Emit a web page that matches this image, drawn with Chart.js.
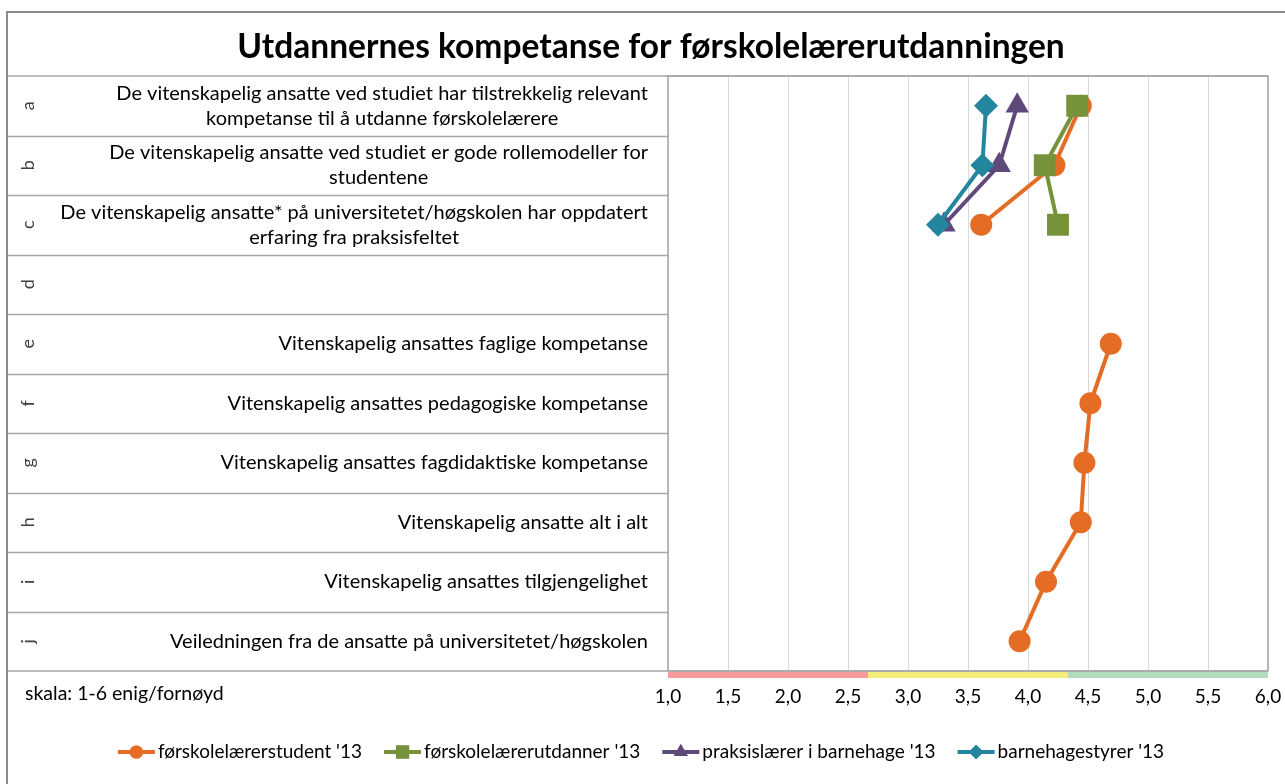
<!DOCTYPE html>
<html>
<head>
<meta charset="utf-8">
<script src="https://cdn.jsdelivr.net/npm/chart.js@4"></script>
<style>
  html, body { margin: 0; padding: 0; background: #fff; }
  #wrap { width: 1285px; height: 784px; }
</style>
</head>
<body>
<div id="wrap"><canvas id="kompetanseChart" width="1285" height="784"></canvas></div>
<script>
const title = 'Utdannernes kompetanse for førskolelærerutdanningen'
const scaleNote = 'skala: 1-6 enig/fornøyd'

const categories = ['a', 'b', 'c', 'd', 'e', 'f', 'g', 'h', 'i', 'j']
const questions = [
  ['De vitenskapelig ansatte ved studiet har tilstrekkelig relevant', 'kompetanse til å utdanne førskolelærere'],
  ['De vitenskapelig ansatte ved studiet er gode rollemodeller for', 'studentene'],
  ['De vitenskapelig ansatte* på universitetet/høgskolen har oppdatert', 'erfaring fra praksisfeltet'],
  [],
  ['Vitenskapelig ansattes faglige kompetanse'],
  ['Vitenskapelig ansattes pedagogiske kompetanse'],
  ['Vitenskapelig ansattes fagdidaktiske kompetanse'],
  ['Vitenskapelig ansatte alt i alt'],
  ['Vitenskapelig ansattes tilgjengelighet'],
  ['Veiledningen fra de ansatte på universitetet/høgskolen']
]

const seriesNames = ["førskolelærerstudent '13", "førskolelærerutdanner '13", "praksislærer i barnehage '13", "barnehagestyrer '13"]
const student = [4.44, 4.22, 3.61, null, 4.69, 4.52, 4.47, 4.44, 4.15, 3.93]
const utdanner = [4.41, 4.14, 4.25, null, null, null, null, null, null, null]
const praksislaerer = [3.91, 3.76, 3.30, null, null, null, null, null, null, null]
const styrer = [3.65, 3.62, 3.25, null, null, null, null, null, null, null]

const xMin = 1
const xMax = 6
const xStep = 0.5
// low / middle / high zones of the 1-6 scale
const bandLimits = [1, 8 / 3, 13 / 3, 6]
const bandColors = ['#f59b9b', '#f6ee7c', '#b3dcbc']

const colors = ['#e46c24', '#76933c', '#5f497a', '#23869e']
const markers = ['circle', 'rect', 'triangle', 'rectRot']
const markerSizes = [11, 15.5, 13.5, 12]

const FONT = 'Lato, "Open Sans", sans-serif'

const tablePlugin = {
  id: 'tableFrame',
  beforeDraw(chart) {
    const { ctx, chartArea } = chart
    const y = chart.scales.y
    const left = 7
    ctx.save()
    ctx.fillStyle = '#fff'
    ctx.fillRect(0, 0, chart.width, chart.height)

    // title
    ctx.fillStyle = '#000'
    ctx.font = 'bold 33.5px ' + FONT
    ctx.textAlign = 'center'
    ctx.textBaseline = 'middle'
    ctx.fillText(title, 651, 47)

    // row separators of the question table
    ctx.strokeStyle = '#a6a6a6'
    ctx.lineWidth = 1.5
    const rowH = (chartArea.bottom - chartArea.top) / categories.length
    for (let i = 1; i < categories.length; i++) {
      const yy = Math.round(chartArea.top + i * rowH) + 0.5
      ctx.beginPath()
      ctx.moveTo(left, yy)
      ctx.lineTo(chartArea.left, yy)
      ctx.stroke()
    }
    ctx.beginPath()
    ctx.moveTo(left, chartArea.top)
    ctx.lineTo(chartArea.right, chartArea.top)
    ctx.moveTo(left, chartArea.bottom)
    ctx.lineTo(chartArea.right, chartArea.bottom)
    ctx.stroke()

    // question texts and rotated letters
    categories.forEach((cat, i) => {
      const cy = y.getPixelForValue(i)
      ctx.save()
      ctx.translate(28, cy)
      ctx.rotate(-Math.PI / 2)
      ctx.fillStyle = '#404040'
      ctx.font = '18px ' + FONT
      ctx.textAlign = 'center'
      ctx.textBaseline = 'middle'
      ctx.fillText(cat, 0, 0)
      ctx.restore()

      const lines = questions[i]
      if (!lines.length) return
      ctx.font = '20px ' + FONT
      ctx.fillStyle = '#000'
      ctx.textAlign = 'center'
      ctx.textBaseline = 'middle'
      const maxW = Math.max(...lines.map(l => ctx.measureText(l).width))
      const cx = 648 - maxW / 2
      const lineH = 25
      lines.forEach((l, k) => {
        ctx.fillText(l, cx, cy + (k - (lines.length - 1) / 2) * lineH)
      })
    })

    ctx.font = '19.5px ' + FONT
    ctx.textAlign = 'left'
    ctx.fillText(scaleNote, 25, 694)
    ctx.restore()
  },
  afterDraw(chart) {
    const { ctx, chartArea } = chart
    const x = chart.scales.x
    ctx.save()

    // plot border
    ctx.strokeStyle = '#a6a6a6'
    ctx.lineWidth = 1.5
    ctx.strokeRect(chartArea.left, chartArea.top, chartArea.right - chartArea.left, chartArea.bottom - chartArea.top)

    // zone band under the plot
    for (let i = 0; i < bandColors.length; i++) {
      const x0 = x.getPixelForValue(bandLimits[i])
      const x1 = x.getPixelForValue(bandLimits[i + 1])
      ctx.fillStyle = bandColors[i]
      ctx.fillRect(x0, chartArea.bottom + 1, x1 - x0, 6)
    }

    // outer frame
    ctx.strokeStyle = '#8c8c8c'
    ctx.lineWidth = 2
    ctx.beginPath()
    ctx.moveTo(7, chart.height)
    ctx.lineTo(7, 12)
    ctx.lineTo(chart.width, 12)
    ctx.stroke()

    // legend: line with marker + name, centred row
    const legendY = 752
    const symW = 37
    const gap = 22
    ctx.font = '19px ' + FONT
    const widths = seriesNames.map(n => symW + 3 + ctx.measureText(n).width)
    const total = widths.reduce((a, b) => a + b, 0) + gap * (widths.length - 1)
    let lx = 641 - total / 2
    chart.data.datasets.forEach((ds, i) => {
      ctx.strokeStyle = ds.borderColor
      ctx.lineWidth = 4
      ctx.beginPath()
      ctx.moveTo(lx, legendY)
      ctx.lineTo(lx + symW, legendY)
      ctx.stroke()
      ctx.fillStyle = ds.borderColor
      ctx.beginPath()
      Chart.helpers.drawPoint(ctx, { pointStyle: ds.pointStyle, radius: ds.pointRadius * 0.6, rotation: 0, borderWidth: 0 }, lx + symW / 2, legendY)
      ctx.fill()
      ctx.fillStyle = '#000'
      ctx.font = '19px ' + FONT
      ctx.textAlign = 'left'
      ctx.textBaseline = 'middle'
      ctx.fillText(seriesNames[i], lx + symW + 3, legendY)
      lx += widths[i] + gap
    })
    ctx.restore()
  }
}

const seriesData = [student, utdanner, praksislaerer, styrer]
const datasets = seriesData.map((data, i) => ({
  label: seriesNames[i],
  data: data,
  borderColor: colors[i],
  backgroundColor: colors[i],
  borderWidth: 4,
  pointStyle: markers[i],
  pointRadius: markerSizes[i],
  pointBorderWidth: 0,
  pointHoverRadius: markerSizes[i],
  spanGaps: false,
  order: seriesData.length - i,
  clip: false
}))

new Chart(document.getElementById('kompetanseChart'), {
  type: 'line',
  data: { labels: categories, datasets: datasets },
  options: {
    indexAxis: 'y',
    responsive: false,
    animation: false,
    layout: { padding: { left: 668, right: 17, top: 76, bottom: 73 } },
    plugins: {
      legend: { display: false },
      title: { display: false },
      tooltip: { enabled: false }
    },
    scales: {
      y: {
        type: 'category',
        display: false,
        offset: true
      },
      x: {
        type: 'linear',
        min: xMin,
        max: xMax,
        afterFit: (scale) => {
          scale.height = 40
          scale.paddingLeft = 0
          scale.paddingRight = 0
        },
        border: { display: false },
        grid: { color: '#d9d9d9', lineWidth: 1, drawTicks: false },
        ticks: {
          stepSize: xStep,
          padding: 14,
          color: '#000',
          font: { family: FONT, size: 19 },
          callback: (value) => value.toFixed(1).replace('.', ',')
        }
      }
    }
  },
  plugins: [tablePlugin]
})
</script>
</body>
</html>
